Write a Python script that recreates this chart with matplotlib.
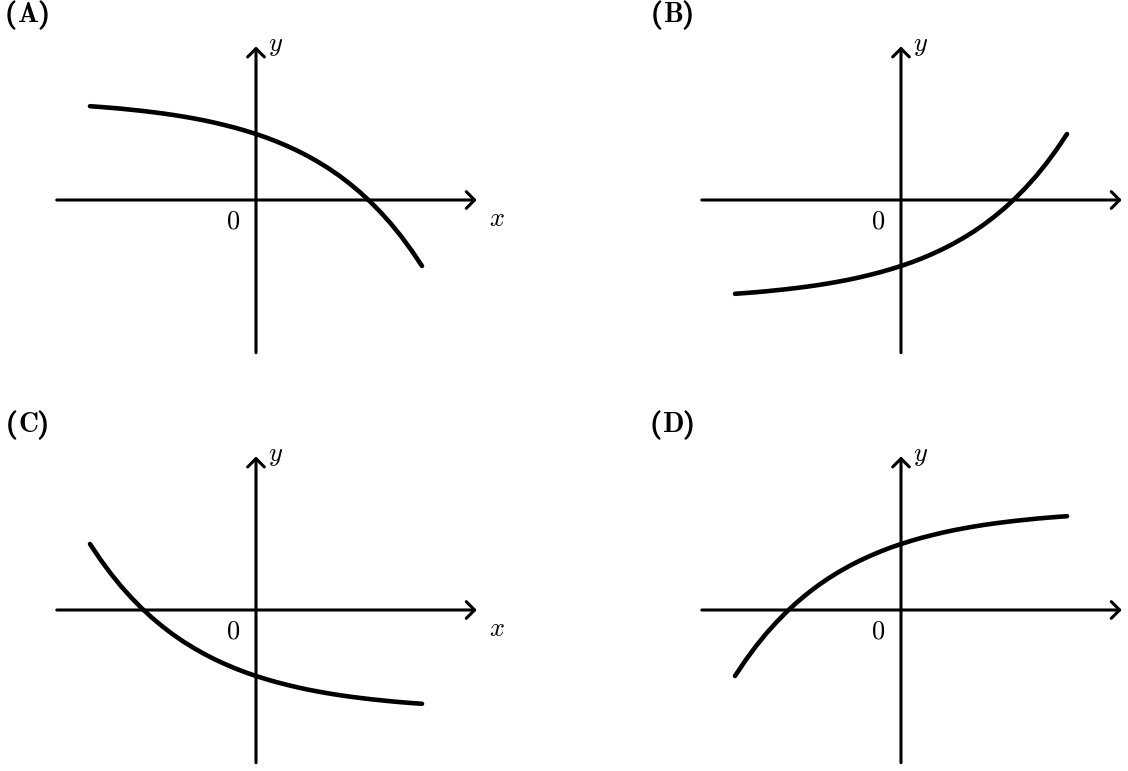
import matplotlib
matplotlib.use("Agg")
import matplotlib.pyplot as plt
import matplotlib.patheffects as pe

plt.rcParams['mathtext.fontset'] = 'cm'

# sampled curve points (x in axis units, 83 px per unit)
x_vals = [-2.0, -1.875, -1.75, -1.625, -1.5, -1.375, -1.25, -1.125, -1.0,
          -0.875, -0.75, -0.625, -0.5, -0.375, -0.25, -0.125, 0.0,
          0.125, 0.25, 0.375, 0.5, 0.625, 0.75, 0.875, 1.0,
          1.125, 1.25, 1.375, 1.5, 1.625, 1.75, 1.875, 2.0]
curve_a = [1.130, 1.121, 1.111, 1.100, 1.087, 1.074, 1.059, 1.043, 1.025,
           1.005, 0.983, 0.959, 0.932, 0.902, 0.870, 0.834, 0.795,
           0.752, 0.704, 0.651, 0.593, 0.529, 0.458, 0.381, 0.295,
           0.200, 0.096, -0.019, -0.146, -0.285, -0.439, -0.609, -0.795]
curve_b = [-1.130, -1.121, -1.111, -1.100, -1.087, -1.074, -1.059, -1.043, -1.025,
           -1.005, -0.983, -0.959, -0.932, -0.902, -0.870, -0.834, -0.795,
           -0.752, -0.704, -0.651, -0.593, -0.529, -0.458, -0.381, -0.295,
           -0.200, -0.096, 0.019, 0.146, 0.285, 0.439, 0.609, 0.795]
curve_c = [0.795, 0.609, 0.439, 0.285, 0.146, 0.019, -0.096, -0.200, -0.295,
           -0.381, -0.458, -0.529, -0.593, -0.651, -0.704, -0.752, -0.795,
           -0.834, -0.870, -0.902, -0.932, -0.959, -0.983, -1.005, -1.025,
           -1.043, -1.059, -1.074, -1.087, -1.100, -1.111, -1.121, -1.130]
curve_d = [-0.795, -0.609, -0.439, -0.285, -0.146, -0.019, 0.096, 0.200, 0.295,
           0.381, 0.458, 0.529, 0.593, 0.651, 0.704, 0.752, 0.795,
           0.834, 0.870, 0.902, 0.932, 0.959, 0.983, 1.005, 1.025,
           1.043, 1.059, 1.074, 1.087, 1.100, 1.111, 1.121, 1.130]

panel_letters = ['A', 'B', 'C', 'D']
curves = [curve_a, curve_b, curve_c, curve_d]
show_x_label = [True, False, True, False]

W, H = 1128, 771
PX = 83.0  # pixels per unit

# (origin px x, origin px y, axes px box left, top, right, bottom)
layout = [
    (256, 200, 0, 0, 564, 385),
    (901, 200, 564, 0, 1128, 385),
    (256, 610, 0, 385, 564, 771),
    (901, 610, 564, 385, 1128, 771),
]

fig = plt.figure(figsize=(W / 100, H / 100), dpi=100)
fig.patch.set_facecolor('white')

bold_paren = [pe.withStroke(linewidth=1.1, foreground='black')]
LABEL_FS = 20

for (ox, oy, l, t, r, b), let, yv, show_x in zip(layout, panel_letters, curves, show_x_label):
    ax = fig.add_axes([l / W, 1 - b / H, (r - l) / W, (b - t) / H])
    ax.set_xlim((l - ox) / PX, (r - ox) / PX)
    ax.set_ylim((oy - b) / PX, (oy - t) / PX)
    ax.axis('off')

    arrow = dict(arrowstyle='->,head_length=0.3,head_width=0.3',
                 lw=2.2, color='black', mutation_scale=20,
                 shrinkA=0, shrinkB=0, capstyle='round')
    # x axis
    ax.annotate('', xy=(2.66, 0), xytext=(-2.40, 0), arrowprops=arrow,
                annotation_clip=False)
    # y axis
    ax.annotate('', xy=(0, 1.85), xytext=(0, -1.84), arrowprops=arrow,
                annotation_clip=False)

    ax.plot(x_vals, yv, color='black', lw=3.3,
            solid_capstyle='round', solid_joinstyle='round')

    ax.text(-0.28, -0.26, r'$0$', fontsize=19, ha='center', va='center')
    ax.text(0.23, 1.87, r'$y$', fontsize=19, ha='center', va='center')
    if show_x:
        ax.text(2.90, -0.23, r'$x$', fontsize=19, ha='center', va='center')

    # panel label: bold letter, stroked parentheses on either side
    lx, ly = -2.75, 2.145
    lt = ax.text(lx, ly, r'$\mathbf{' + let + '}$', fontsize=LABEL_FS,
                 ha='center', va='baseline', clip_on=False)
    fig.canvas.draw()
    half_w = lt.get_window_extent().width / 2 * 72 / fig.dpi
    ax.annotate(r'$($', xy=(lx, ly), xytext=(-half_w, 0), textcoords='offset points',
                ha='right', va='baseline', fontsize=LABEL_FS,
                annotation_clip=False, path_effects=bold_paren)
    ax.annotate(r'$)$', xy=(lx, ly), xytext=(half_w, 0), textcoords='offset points',
                ha='left', va='baseline', fontsize=LABEL_FS,
                annotation_clip=False, path_effects=bold_paren)

fig.savefig('out.png', dpi=100)
